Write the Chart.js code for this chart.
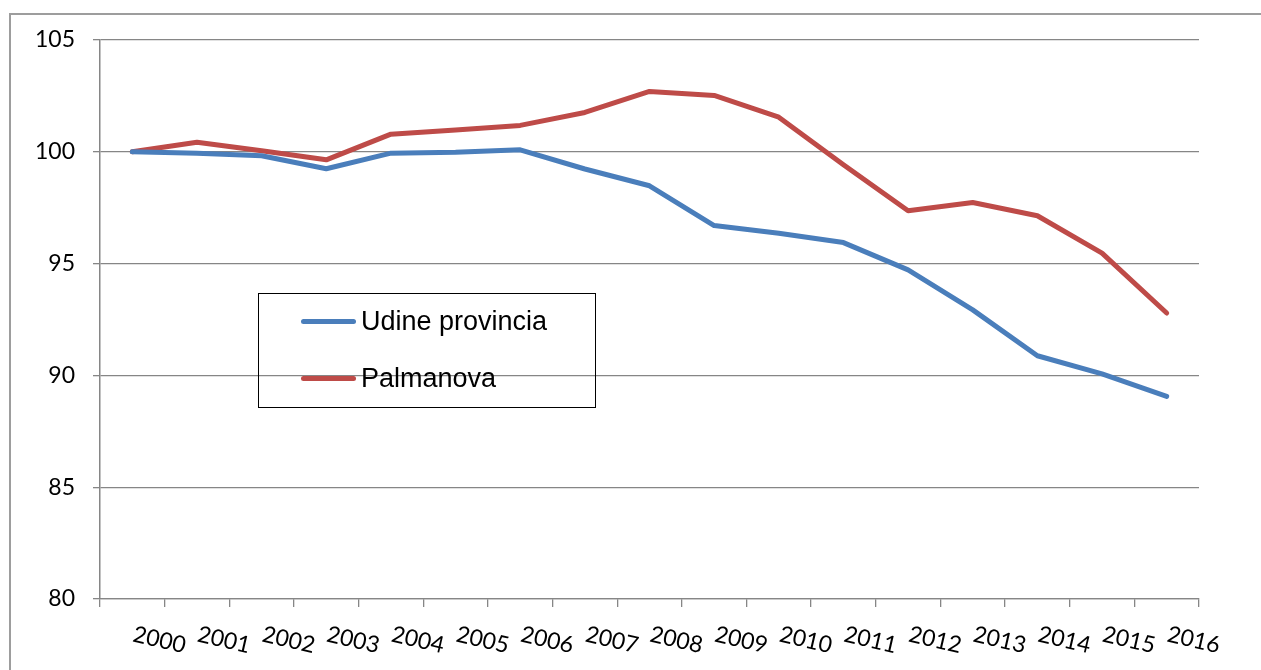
<!DOCTYPE html>
<html>
<head>
<meta charset="utf-8">
<script src="https://cdn.jsdelivr.net/npm/chart.js@4"></script>
<style>
  body { margin: 0; background: #fff; overflow: hidden; }
  #wrap { position: relative; width: 1261px; height: 670px; }
  #frame {
    position: absolute; left: 9px; top: 13px; width: 1400px; height: 800px;
    border-left: 2px solid #9d9d9d; border-top: 2px solid #9d9d9d;
  }
  #chart { position: absolute; left: 0; top: 0; }
  #legend {
    position: absolute; left: 258px; top: 293px; width: 338px; height: 115px;
    border: 1px solid #000; box-sizing: border-box;
    font-family: "Liberation Sans", Arial, sans-serif; font-size: 27px; color: #000;
  }
  .item { position: absolute; left: 0; height: 30px; display: flex; align-items: center; }
  .swatch { width: 55px; height: 5px; border-radius: 3px; margin-left: 42px; margin-right: 5px; }
</style>
</head>
<body>
<div id="wrap">
  <div id="frame"></div>
  <canvas id="chart" width="1261" height="670"></canvas>
  <div id="legend"></div>
</div>
<script>
// 데이터
const years = ['2000', '2001', '2002', '2003', '2004', '2005', '2006', '2007', '2008',
               '2009', '2010', '2011', '2012', '2013', '2014', '2015', '2016'];
const udine = [100, 99.94, 99.82, 99.24, 99.94, 99.98, 100.09, 99.23, 98.48,
               96.7, 96.36, 95.94, 94.72, 92.93, 90.88, 90.07, 89.06];
const palmanova = [100, 100.43, 100.05, 99.64, 100.79, 100.98, 101.18, 101.76, 102.7,
                   102.52, 101.55, 99.42, 97.36, 97.73, 97.14, 95.47, 92.79];
const yTicks = [80, 85, 90, 95, 100, 105];

const gridColor = '#868686';

// 회전된 x축 라벨 (시계 방향)
const rotatedLabels = {
    id: 'rotatedLabels',
    afterDraw(chart) {
        const ctx = chart.ctx;
        const xs = chart.scales.x;
        ctx.save();
        ctx.font = '23px Lato, "Open Sans", sans-serif';
        ctx.fillStyle = '#000';
        ctx.textAlign = 'center';
        ctx.textBaseline = 'middle';
        years.forEach((y, i) => {
            const cx = xs.getPixelForValue(i) + 27;
            ctx.save();
            ctx.translate(cx, 640);
            ctx.rotate(13 * Math.PI / 180);
            ctx.fillText(y, 0, 0);
            ctx.restore();
        });
        ctx.restore();
    }
};

const chart = new Chart(document.getElementById('chart'), {
    type: 'line',
    data: {
        labels: years,
        datasets: [{
            label: 'Udine provincia',
            data: udine,
            borderColor: '#4a7ebb',
            borderWidth: 5
        }, {
            label: 'Palmanova',
            data: palmanova,
            borderColor: '#be4b48',
            borderWidth: 5
        }]
    },
    options: {
        responsive: false,
        animation: false,
        devicePixelRatio: 1,
        layout: { padding: { top: 40, right: 62, left: 0, bottom: 0 } },
        elements: {
            point: { radius: 0 },
            line: { tension: 0, borderCapStyle: 'round', borderJoinStyle: 'round' }
        },
        plugins: {
            legend: { display: false },
            tooltip: { enabled: false }
        },
        scales: {
            x: {
                offset: true,
                grid: { offset: true, drawOnChartArea: false, drawTicks: true, tickLength: 8, color: gridColor, lineWidth: 1.3 },
                border: { color: gridColor, width: 1.3 },
                ticks: { display: false },
                afterFit(scale) { scale.height = 71; }
            },
            y: {
                min: 80,
                max: 105,
                afterBuildTicks(scale) { scale.ticks = yTicks.map(v => ({ value: v })); },
                grid: { color: gridColor, tickLength: 7, lineWidth: 1.3 },
                border: { color: gridColor, width: 1.5 },
                ticks: {
                    padding: 18,
                    color: '#000',
                    font: { family: 'Lato, "Open Sans", sans-serif', size: 23 }
                },
                afterFit(scale) { scale.width = 100; }
            }
        }
    },
    plugins: [rotatedLabels]
});

// 범례
const legend = document.getElementById('legend');
const tops = [12, 69];
chart.data.datasets.forEach((ds, i) => {
    const item = document.createElement('div');
    item.className = 'item';
    item.style.top = tops[i] + 'px';
    item.innerHTML = `<span class="swatch" style="background:${ds.borderColor}"></span><span>${ds.label}</span>`;
    legend.appendChild(item);
});
</script>
</body>
</html>
